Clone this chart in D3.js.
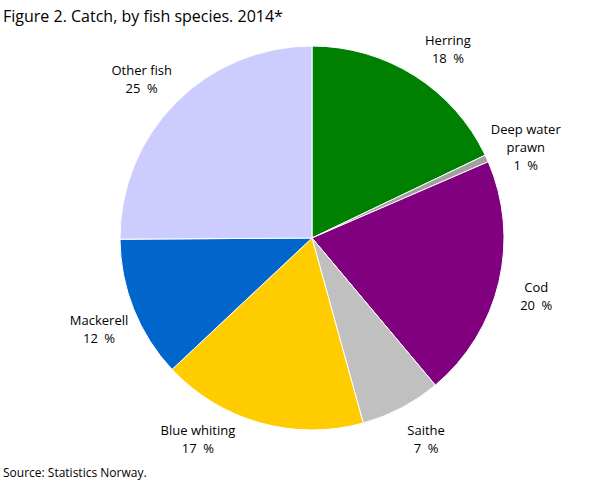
<!DOCTYPE html>
<html lang="en">
<head>
    <meta charset="UTF-8">
    <title>Catch by fish species</title>
    <script src="https://d3js.org/d3.v7.min.js"></script>
<style>
    body { margin: 0; background: #fff; }
    text { font-family: "Open Sans", sans-serif; fill: #000; }
    .title { font-size: 16px; }
    .source { font-size: 12px; }
    .lbl { font-size: 13px; }
    path.slice { stroke: #fff; stroke-width: 1px; }
</style>
</head>
<body>
    <svg id="canvas" width="608" height="489"></svg>

    <script>
        // share of total catch, percent (clockwise from 12 o'clock)
        var species = ["Herring", "Deep water prawn", "Cod", "Saithe", "Blue whiting", "Mackerell", "Other fish"];
        var labelLines = [["Herring"], ["Deep water", "prawn"], ["Cod"], ["Saithe"], ["Blue whiting"], ["Mackerell"], ["Other fish"]];
        var share = [17.9, 0.6, 20.4, 6.8, 17.3, 11.9, 25.1];
        var colors = ["#008000", "#a0a0a0", "#800080", "#c0c0c0", "#ffcc00", "#0066cc", "#ccccff"];

        var svg = d3.select('svg');
        var cx = 312, cy = 238, radius = 192;

        svg.append("text").attr("class", "title")
            .attr("x", 3).attr("y", 22)
            .text("Figure 2. Catch, by fish species. 2014*");

        svg.append("text").attr("class", "source")
            .attr("x", 3).attr("y", 477)
            .text("Source: Statistics Norway.");

        var pie = d3.pie().sort(null).value(function(d){ return d; });
        var arc = d3.arc().innerRadius(0).outerRadius(radius);
        var arcs = pie(share);

        var g = svg.append("g").attr("transform", "translate(" + cx + "," + cy + ")");

        g.selectAll("path.slice")
            .data(arcs)
            .enter()
            .append("path")
            .attr("class", "slice")
            .attr("fill", function(d, i){ return colors[i]; })
            .attr("d", arc);

        // labels: natural point on a larger circle, kept inside the plot, x bent round the pie
        var rl = 232, lineH = 18;
        var yMin = -188, yMax = 202;
        var lbl = g.selectAll("g.lbl")
            .data(arcs)
            .enter()
            .append("g")
            .attr("class", "lbl")
            .attr("transform", function(d) {
                var a = (d.startAngle + d.endAngle) / 2;
                var y = -rl * Math.cos(a) + 6;
                y = Math.max(yMin, Math.min(yMax, y));
                var side = Math.sin(a) >= 0 ? 1 : -1;
                var x = side * Math.sqrt(Math.max(0, rl * rl - y * y));
                return "translate(" + x + "," + y + ")";
            });

        lbl.append("text")
            .attr("text-anchor", "middle")
            .each(function(d, i) {
                var lines = labelLines[i].concat([Math.round(d.value) + "\u2002%"]);
                var t = d3.select(this);
                var y0 = -(lines.length - 1) * lineH / 2 + 4;
                lines.forEach(function(s, k) {
                    t.append("tspan").attr("x", 0).attr("y", y0 + k * lineH).text(s);
                });
            });
    </script>
</body>
</html>
